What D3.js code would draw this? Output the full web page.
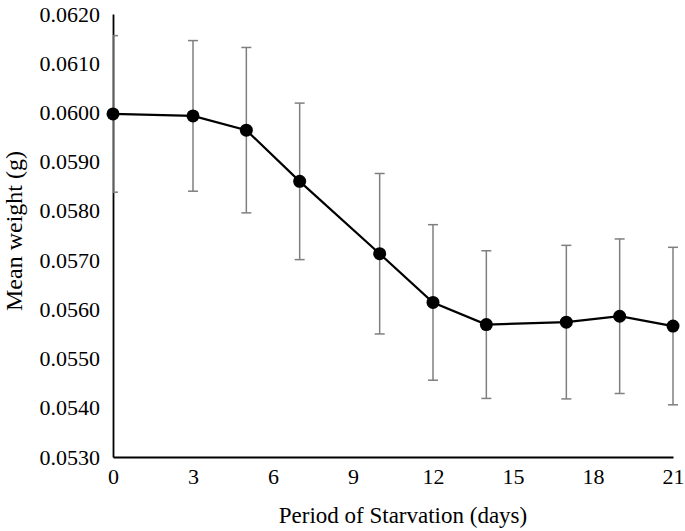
<!DOCTYPE html>
<html><head><meta charset="utf-8">
<script src="https://cdn.jsdelivr.net/npm/d3@7"></script>
<style>body{margin:0;background:#fff}svg{display:block}</style>
</head><body><div id="chart"></div>
<script>
const days = [0, 3, 5, 7, 10, 12, 14, 17, 19, 21];
const meanWeight = [0.05997, 0.05993, 0.05964, 0.05860, 0.05713, 0.05614, 0.05569, 0.05574, 0.05586, 0.05566];
const errors = [0.00159, 0.00153, 0.00168, 0.00159, 0.00163, 0.00158, 0.00150, 0.00156, 0.00157, 0.00160];
const xTicks = [0, 3, 6, 9, 12, 15, 18, 21];
const yTicks = [0.0530, 0.0540, 0.0550, 0.0560, 0.0570, 0.0580, 0.0590, 0.0600, 0.0610, 0.0620];
const xTitle = "Period of Starvation (days)";
const yTitle = "Mean weight (g)";

const W = 685, H = 531;
const m = {left: 113, right: 12, top: 14, bottom: 74};
const svg = d3.select("#chart").append("svg").attr("width", W).attr("height", H)
  .style("font-family", "'Liberation Serif', 'Times New Roman', serif");

const x = d3.scaleLinear().domain([0, 21]).range([m.left, W - m.right]);
const y = d3.scaleLinear().domain([0.0530, 0.0620]).range([H - m.bottom, m.top]);

svg.append("defs").append("clipPath").attr("id", "clip").append("rect")
  .attr("x", m.left).attr("y", 0).attr("width", W - m.left).attr("height", H);

// axes
const xAxis = svg.append("g").attr("transform", `translate(0,${y(0.0530)})`)
  .call(d3.axisBottom(x).tickValues(xTicks).tickSize(0).tickPadding(11).tickFormat(d3.format("d")));
xAxis.select(".domain").attr("stroke", "#000").attr("stroke-width", 1.8);
xAxis.selectAll("text").attr("font-size", 22).attr("fill", "#000").attr("font-family", "'Liberation Serif', serif");

const yAxis = svg.append("g").attr("transform", `translate(${x(0)},0)`)
  .call(d3.axisLeft(y).tickValues(yTicks).tickSize(0).tickPadding(13).tickFormat(d3.format(".4f")));
yAxis.select(".domain").attr("stroke", "#000").attr("stroke-width", 1.8);
yAxis.selectAll("text").attr("font-size", 22).attr("fill", "#000").attr("font-family", "'Liberation Serif', serif");

const data = days.map((d, i) => ({d, v: meanWeight[i], e: errors[i]}));

// error bars
const eb = svg.append("g").attr("clip-path", "url(#clip)").attr("stroke", "#7f7f7f").attr("stroke-width", 1.5);
data.forEach(p => {
  const cx = x(p.d);
  eb.append("line").attr("x1", cx).attr("x2", cx).attr("y1", y(p.v + p.e)).attr("y2", y(p.v - p.e));
  [p.v + p.e, p.v - p.e].forEach(v => {
    eb.append("line").attr("x1", cx - 5).attr("x2", cx + 5).attr("y1", y(v)).attr("y2", y(v));
  });
});

// line
svg.append("path").datum(data)
  .attr("fill", "none").attr("stroke", "#000").attr("stroke-width", 2.2)
  .attr("d", d3.line().x(p => x(p.d)).y(p => y(p.v)));

svg.append("g").selectAll("circle").data(data).join("circle")
  .attr("cx", p => x(p.d)).attr("cy", p => y(p.v)).attr("r", 6.5).attr("fill", "#000");

// titles
svg.append("text").attr("x", 403).attr("y", 523).attr("text-anchor", "middle")
  .attr("font-size", 23).attr("fill", "#000").text(xTitle);
svg.append("text").attr("transform", `translate(22,231) rotate(-90)`)
  .attr("text-anchor", "middle").attr("font-size", 24).attr("fill", "#000").text(yTitle);
</script></body></html>
